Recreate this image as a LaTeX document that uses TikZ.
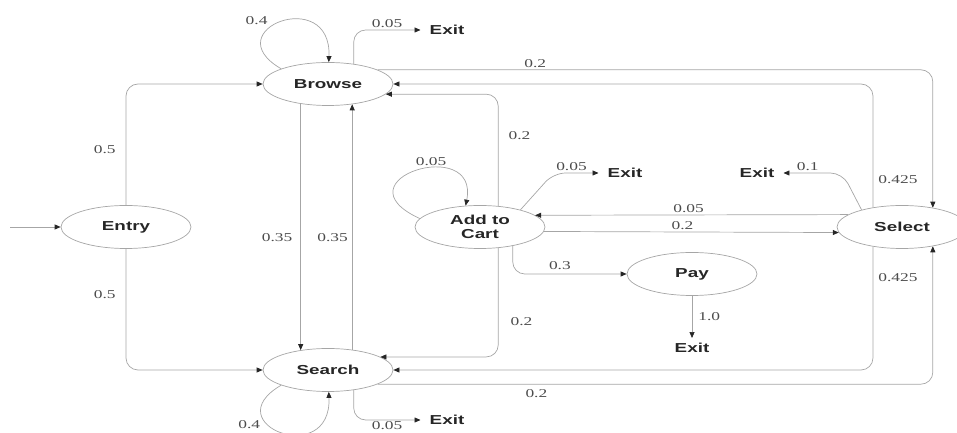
\documentclass[tikz,border=0pt]{standalone}
\usepackage{fontspec}
\setmainfont{Liberation Serif}
\setsansfont{Liberation Sans}
\usepackage{graphicx}
\usetikzlibrary{arrows.meta,shapes.geometric,positioning}
\newcommand{\wide}[1]{\scalebox{1.45}[1]{#1}}

\begin{document}
\begin{tikzpicture}[x=1pt,y=1pt,
    state/.style={ellipse, draw=black!35, line width=0.7pt, minimum width=130pt,
        minimum height=43pt, inner sep=0pt, align=center,
        font=\sffamily\bfseries\fontsize{13}{14}\selectfont, text=black!85},
    exitnode/.style={inner xsep=9pt, inner ysep=5pt,
        font=\sffamily\bfseries\fontsize{13}{14}\selectfont, text=black!85},
    edge/.style={draw=black!35, line width=0.7pt, rounded corners=12pt,
        -{Triangle[length=6pt,width=5pt,color=black!85]}},
    prob/.style={font=\fontsize{12}{13}\selectfont, text=black!70, inner sep=2pt}]
        \useasboundingbox (0,0) rectangle (957,433);

        % states
        \node[state] (entry)  at (126,206) {\wide{Entry}};
        \node[state] (browse) at (328,349) {\wide{Browse}};
        \node[state] (search) at (328,63)  {\wide{Search}};
        \node[state] (cart)   at (480,206) {\wide{Add to}\\\wide{Cart}};
        \node[state] (pay)    at (692,159) {\wide{Pay}};
        \node[state] (select) at (902,206) {\wide{Select}};

        % exits
        \node[exitnode] (exitb) at (447,403) {\wide{Exit}};
        \node[exitnode] (exitc) at (625,260) {\wide{Exit}};
        \node[exitnode] (exits) at (757,260) {\wide{Exit}};
        \node[exitnode] (exitp) at (692,85)  {\wide{Exit}};
        \node[exitnode] (exitr) at (447,13)  {\wide{Exit}};
        \coordinate (start) at (10,206);

        % entry
        \draw[edge] (start) -- (entry.west);
        \draw[edge] (entry.north) |- node[prob, pos=0.23, left=8pt] {\wide{0.5}} (browse.west);
        \draw[edge] (entry.south) |- node[prob, pos=0.19, left=8pt] {\wide{0.5}} (search.west);

        % browse
        \draw[edge] (browse.162) .. controls +(-67,39) and +(3,77) .. node[prob, pos=0.4, above left=0pt] {\wide{0.4}} (browse.88);
        \draw[edge] (browse.38) |- node[prob, pos=0.75, above] {\wide{0.05}} (exitb.west);
        \draw[edge] (browse.-144) -- node[prob, pos=0.545, left=6pt] {\wide{0.35}} (search.144);
        \draw[edge] (browse.16) -| node[prob, pos=0.142, above] {\wide{0.2}} (select.32);

        % search
        \draw[edge] (search.-162) .. controls +(-67,-39) and +(3,-77) .. node[prob, pos=0.3, below left=0pt] {\wide{0.4}} (search.-88);
        \draw[edge] (search.-38) |- node[prob, pos=0.75, below=0pt, inner sep=1pt] {\wide{0.05}} (exitr.west);
        \draw[edge] (search.40) -- node[prob, pos=0.455, left=2pt] {\wide{0.35}} (browse.-40);
        \draw[edge] (search.-16) -| node[prob, pos=0.143, below=3pt] {\wide{0.2}} (select.-32);

        % add to cart
        \draw[edge] (cart.172) .. controls +(-85,39) and +(14,71) .. node[prob, pos=0.6, above] {\wide{0.05}} (cart.124);
        \draw[edge] (cart.49) |- node[prob, pos=0.317, right=8pt] {\wide{0.2}} (browse.-10);
        \draw[edge] (cart.-49) |- node[prob, pos=0.34, right=10pt] {\wide{0.2}} (search.14);
        \draw[edge] (cart.23) -- ([xshift=-45pt]exitc.west) -- node[prob, pos=0.4, above] {\wide{0.05}} (exitc.west);
        \draw[edge] (cart.-4.5) -- node[prob, pos=0.47, above] {\wide{0.2}} (select.-175.5);
        \draw[edge] (cart.-30) |- node[prob, pos=0.707, above=2pt] {\wide{0.3}} (pay.west);

        % pay
        \draw[edge] (pay.south) -- node[prob, pos=0.48, right=4pt] {\wide{1.0}} (exitp.north);

        % select
        \draw[edge] (select.146) |- node[prob, pos=0.113, right=3pt] {\wide{0.425}} (browse.east);
        \draw[edge] (select.-146) |- node[prob, pos=0.125, right=3pt] {\wide{0.425}} (search.east);
        \draw[edge] (select.157) -- ([xshift=59pt]exits.east) -- node[prob, pos=0.59, above] {\wide{0.1}} (exits.east);
        \draw[edge] (select.167.5) -- node[prob, pos=0.51, above] {\wide{0.05}} (cart.12.5);
    \end{tikzpicture}
\end{document}
